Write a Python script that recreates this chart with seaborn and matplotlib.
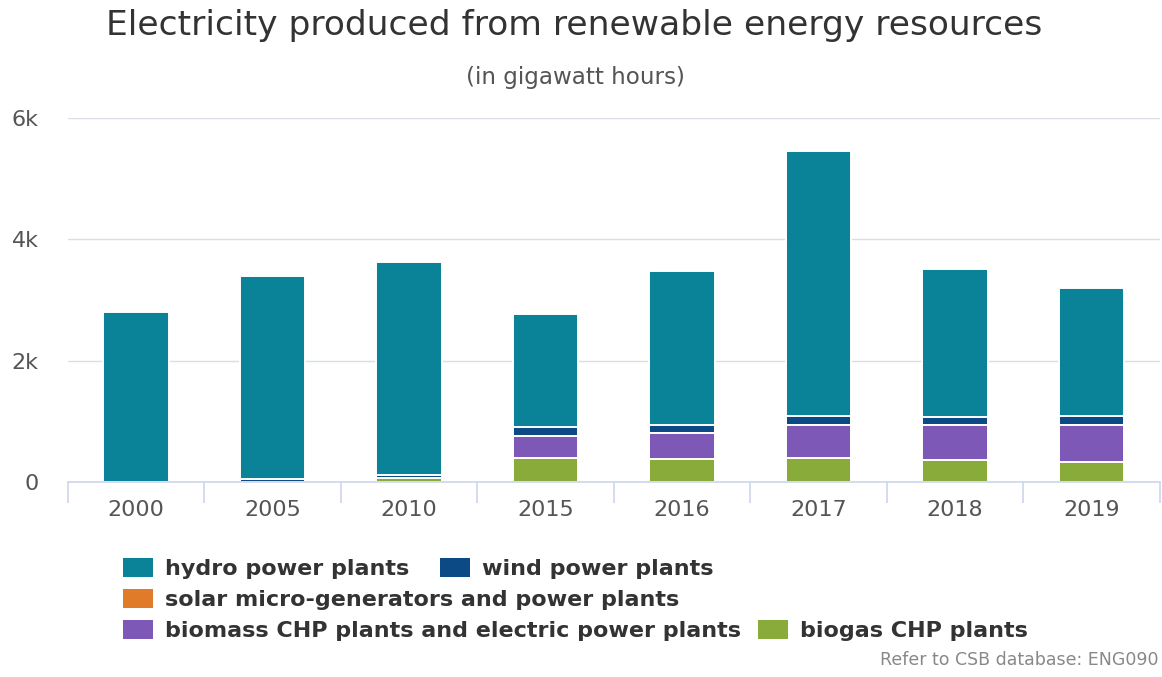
import matplotlib
matplotlib.use("Agg")
from matplotlib import pyplot as plt
from matplotlib.patches import Patch
import numpy as np
import pandas as pd
import seaborn as sns

years = ["2000", "2005", "2010", "2015", "2016", "2017", "2018", "2019"]
hydro = [2800, 3345, 3520, 1875, 2540, 4380, 2430, 2110]
wind = [0, 50, 50, 145, 120, 145, 140, 145]
solar = [0, 0, 0, 1, 1, 2, 3, 5]
biomass = [0, 0, 0, 360, 430, 545, 570, 605]
biogas = [0, 0, 60, 395, 385, 390, 365, 330]

series = ["hydro power plants", "wind power plants",
          "solar micro-generators and power plants",
          "biomass CHP plants and electric power plants", "biogas CHP plants"]
colors = ["#0a8399", "#0b4a84", "#e07b2a", "#7e58b6", "#88ab3a"]

df = pd.DataFrame({"year": years, "hydro": hydro, "wind": wind, "solar": solar,
                   "biomass": biomass, "biogas": biogas})
# cumulative stacks, bottom layer = biogas
df["c_biogas"] = df["biogas"]
df["c_biomass"] = df["c_biogas"] + df["biomass"]
df["c_solar"] = df["c_biomass"] + df["solar"]
df["c_wind"] = df["c_solar"] + df["wind"]
df["c_hydro"] = df["c_wind"] + df["hydro"]

sns.set_theme(style="white")
plt.rcParams["font.family"] = ["DejaVu Sans"]

fig = plt.figure(figsize=(11.62, 6.77), dpi=100)
ax = fig.add_axes([0.0585, 0.288, 0.9395, 0.5377])

for col, color in zip(["c_hydro", "c_wind", "c_solar", "c_biomass", "c_biogas"], colors):
    sns.barplot(data=df, x="year", y=col, color=color, width=0.48,
                edgecolor="white", linewidth=1.4, saturation=1, ax=ax)

ax.set_ylim(0, 6000)
ax.set_xlim(-0.5, 7.5)
ax.set_yticks([0, 2000, 4000, 6000])
ax.set_yticklabels(["0", "2k", "4k", "6k"])
ax.grid(axis="y", color="#d8dde6", linewidth=1)
ax.set_axisbelow(True)
for s in ["top", "right", "left"]:
    ax.spines[s].set_visible(False)
ax.spines["bottom"].set_color("#ccd6eb")
ax.spines["bottom"].set_linewidth(1.2)
ax.set_xlabel("")
ax.set_ylabel("")
ax.set_xticks(np.arange(-0.5, 8, 1), minor=True)
ax.tick_params(axis="x", which="minor", length=15, color="#ccd6eb", width=1.2, bottom=True)
ax.tick_params(axis="x", which="major", length=0, pad=13, labelsize=16, labelcolor="#555555")
ax.tick_params(axis="y", length=0, pad=21, labelsize=16, labelcolor="#555555")

fig.text(0.494, 0.963, "Electricity produced from renewable energy resources",
         ha="center", va="center", fontsize=24.8, color="#333333")
fig.text(0.495, 0.886, "(in gigawatt hours)", ha="center", va="center",
         fontsize=16.6, color="#555555")
fig.text(0.997, 0.012, "Refer to CSB database: ENG090", ha="right", va="bottom",
         fontsize=12.5, color="#888888")

handles = [Patch(facecolor=c, edgecolor="none") for c in colors]
rows = [([0, 1], 0.160, 1.35), ([2], 0.114, 1.0), ([3, 4], 0.068, 0.75)]
for idx, yc, cs in rows:
    leg = fig.legend([handles[i] for i in idx], [series[i] for i in idx],
                     loc="center left", bbox_to_anchor=(0.106, yc), ncol=len(idx),
                     frameon=False, borderpad=0, borderaxespad=0,
                     handlelength=1.35, handleheight=0.92, handletextpad=0.55,
                     columnspacing=cs, prop={"weight": "bold", "size": 16})
    for t in leg.get_texts():
        t.set_color("#333333")

fig.savefig("out.png", dpi=100, facecolor="white")
